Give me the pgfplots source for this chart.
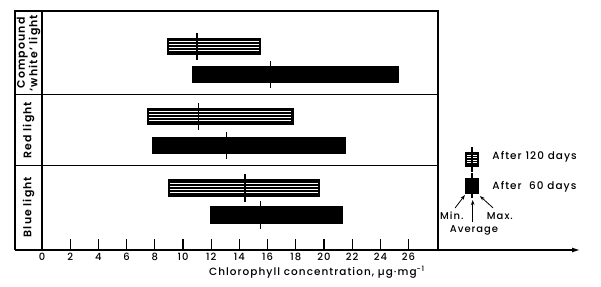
\documentclass[border=0pt]{standalone}
\usepackage{fontspec}
\setmainfont{Poppins}[UprightFont=* Medium, BoldFont=* SemiBold, LetterSpace=10]
\usepackage{pgfplots}
\pgfplotsset{compat=1.18}
\usepgfplotslibrary{statistics}
\usetikzlibrary{arrows.meta}
\tikzset{
  solidbar/.style={draw=black, line width=1.4bp, fill=black},
  hl/.style={white, line width=1bp, shorten <=1.6bp, shorten >=1.6bp},
}
\begin{document}
\begin{tikzpicture}
\useasboundingbox (0,0) rectangle (601bp,287bp);
\begin{axis}[
  at={(15bp,37bp)}, anchor=south west,
  scale only axis, width=565bp, height=239bp,
  xmin=-1.915, xmax=38.16, ymin=0, ymax=239,
  axis x line*=bottom, hide y axis,
  x axis line style={-{Latex[length=8bp,width=5bp]}, line width=1.2bp},
  xtick={0,2,...,26}, tick align=inside, major tick length=10.5bp,
  tick style={line width=1.1bp, black},
  /pgf/number format/assume math mode=true,
  ticklabel style={font=\fontsize{10}{12}\selectfont},
  clip=false,
  boxplot/draw direction=x,
]
% frame
\draw[line width=1.2bp] (axis cs:-1.915,0) -- (axis cs:-1.915,239) -- (axis cs:28.09,239) -- (axis cs:28.09,0);
\draw[line width=1.2bp] (axis cs:0,0) -- (axis cs:0,239);
\draw[line width=1bp] (axis cs:-1.915,155) -- (axis cs:28.09,155);
\draw[line width=1bp] (axis cs:-1.915,84) -- (axis cs:28.09,84);

% After 120 days (hatched): min, avg, max
\addplot[solidbar, boxplot prepared={draw position=203.5, box extend=16, lower whisker=8.9, lower quartile=8.9, median=11.0, upper quartile=15.5, upper whisker=15.5, whisker extend=0}] coordinates {};
\addplot[solidbar, boxplot prepared={draw position=133.5, box extend=16, lower whisker=7.5, lower quartile=7.5, median=11.1, upper quartile=17.8, upper whisker=17.8, whisker extend=0}] coordinates {};
\addplot[solidbar, boxplot prepared={draw position=62, box extend=16, lower whisker=9.0, lower quartile=9.0, median=14.4, upper quartile=19.7, upper whisker=19.7, whisker extend=0}] coordinates {};
% hatching of the 120-day bars
\addplot[hl] coordinates {(8.9,199) (15.5,199)};
\addplot[hl] coordinates {(8.9,202) (15.5,202)};
\addplot[hl] coordinates {(8.9,205) (15.5,205)};
\addplot[hl] coordinates {(8.9,208) (15.5,208)};
\addplot[hl] coordinates {(7.5,129) (17.8,129)};
\addplot[hl] coordinates {(7.5,132) (17.8,132)};
\addplot[hl] coordinates {(7.5,135) (17.8,135)};
\addplot[hl] coordinates {(7.5,138) (17.8,138)};
\addplot[hl] coordinates {(9.0,57.5) (19.7,57.5)};
\addplot[hl] coordinates {(9.0,60.5) (19.7,60.5)};
\addplot[hl] coordinates {(9.0,63.5) (19.7,63.5)};
\addplot[hl] coordinates {(9.0,66.5) (19.7,66.5)};
% After 60 days (solid)
\addplot[solidbar, boxplot prepared={draw position=175.3, box extend=16, lower whisker=10.7, lower quartile=10.7, median=16.2, upper quartile=25.3, upper whisker=25.3, whisker extend=0}] coordinates {};
\addplot[solidbar, boxplot prepared={draw position=104.5, box extend=16, lower whisker=7.85, lower quartile=7.85, median=13.1, upper quartile=21.5, upper whisker=21.5, whisker extend=0}] coordinates {};
\addplot[solidbar, boxplot prepared={draw position=35, box extend=16, lower whisker=12.0, lower quartile=12.0, median=15.5, upper quartile=21.3, upper whisker=21.3, whisker extend=0}] coordinates {};
% averages
\addplot[only marks, mark=|, mark size=13.5bp, mark options={line width=1.3bp, black}] coordinates {
 (11.0,203.5) (16.2,175.3) (11.1,133.5) (13.1,104.5) (14.4,62) (15.5,35)};

% row labels
\node[rotate=90, font=\bfseries\fontsize{11}{12.5}\selectfont, align=center] at (axis cs:-0.96,197) {Compound\\‘white’ light};
\node[rotate=90, font=\bfseries\fontsize{11}{12.5}\selectfont] at (axis cs:-0.96,120) {Red light};
\node[rotate=90, font=\bfseries\fontsize{11}{12.5}\selectfont] at (axis cs:-0.96,43) {Blue light};

% axis label
\node[font=\fontsize{10.5}{12}\selectfont] at (axis cs:19.5,-22.7) {Chlorophyll concentration, µg·mg\textsuperscript{-1}};

% legend
\draw[solidbar, line width=1.3bp] (axis cs:30.07,84) rectangle (axis cs:30.92,97.3);
\draw[hl, line width=0.9bp, shorten <=1.3bp, shorten >=1.3bp] (axis cs:30.07,87.2) -- (axis cs:30.92,87.2);
\draw[hl, line width=0.9bp, shorten <=1.3bp, shorten >=1.3bp] (axis cs:30.07,89.8) -- (axis cs:30.92,89.8);
\draw[hl, line width=0.9bp, shorten <=1.3bp, shorten >=1.3bp] (axis cs:30.07,92.4) -- (axis cs:30.92,92.4);
\draw[hl, line width=0.9bp, shorten <=1.3bp, shorten >=1.3bp] (axis cs:30.07,95.0) -- (axis cs:30.92,95.0);
\draw[line width=1.1bp] (axis cs:30.5,78) -- (axis cs:30.5,103.3);
\draw[line width=1.1bp] (axis cs:30.5,52) -- (axis cs:30.5,77);
\draw[solidbar] (axis cs:30.07,56.7) rectangle (axis cs:30.92,71);
\node[anchor=west, font=\fontsize{10.5}{12}\selectfont] at (axis cs:31.7,92.7) {After 120 days};
\node[anchor=west, font=\fontsize{10.5}{12}\selectfont] at (axis cs:31.7,63.3) {After \hphantom{1}60 days};
\node[font=\fontsize{10}{12}\selectfont] at (axis cs:29.07,34) {Min.};
\node[font=\fontsize{10}{12}\selectfont] at (axis cs:32.48,34) {Max.};
\node[font=\fontsize{10}{12}\selectfont] at (axis cs:30.64,20) {Average};
\draw[-{Stealth[length=5bp,width=3.5bp]}, line width=0.8bp] (axis cs:29.3,42) -- (axis cs:30.0,55);
\draw[-{Stealth[length=5bp,width=3.5bp]}, line width=0.8bp] (axis cs:30.55,28) -- (axis cs:30.55,50);
\draw[-{Stealth[length=5bp,width=3.5bp]}, line width=0.8bp] (axis cs:32.0,42) -- (axis cs:31.06,54);
\end{axis}
\end{tikzpicture}
\end{document}
